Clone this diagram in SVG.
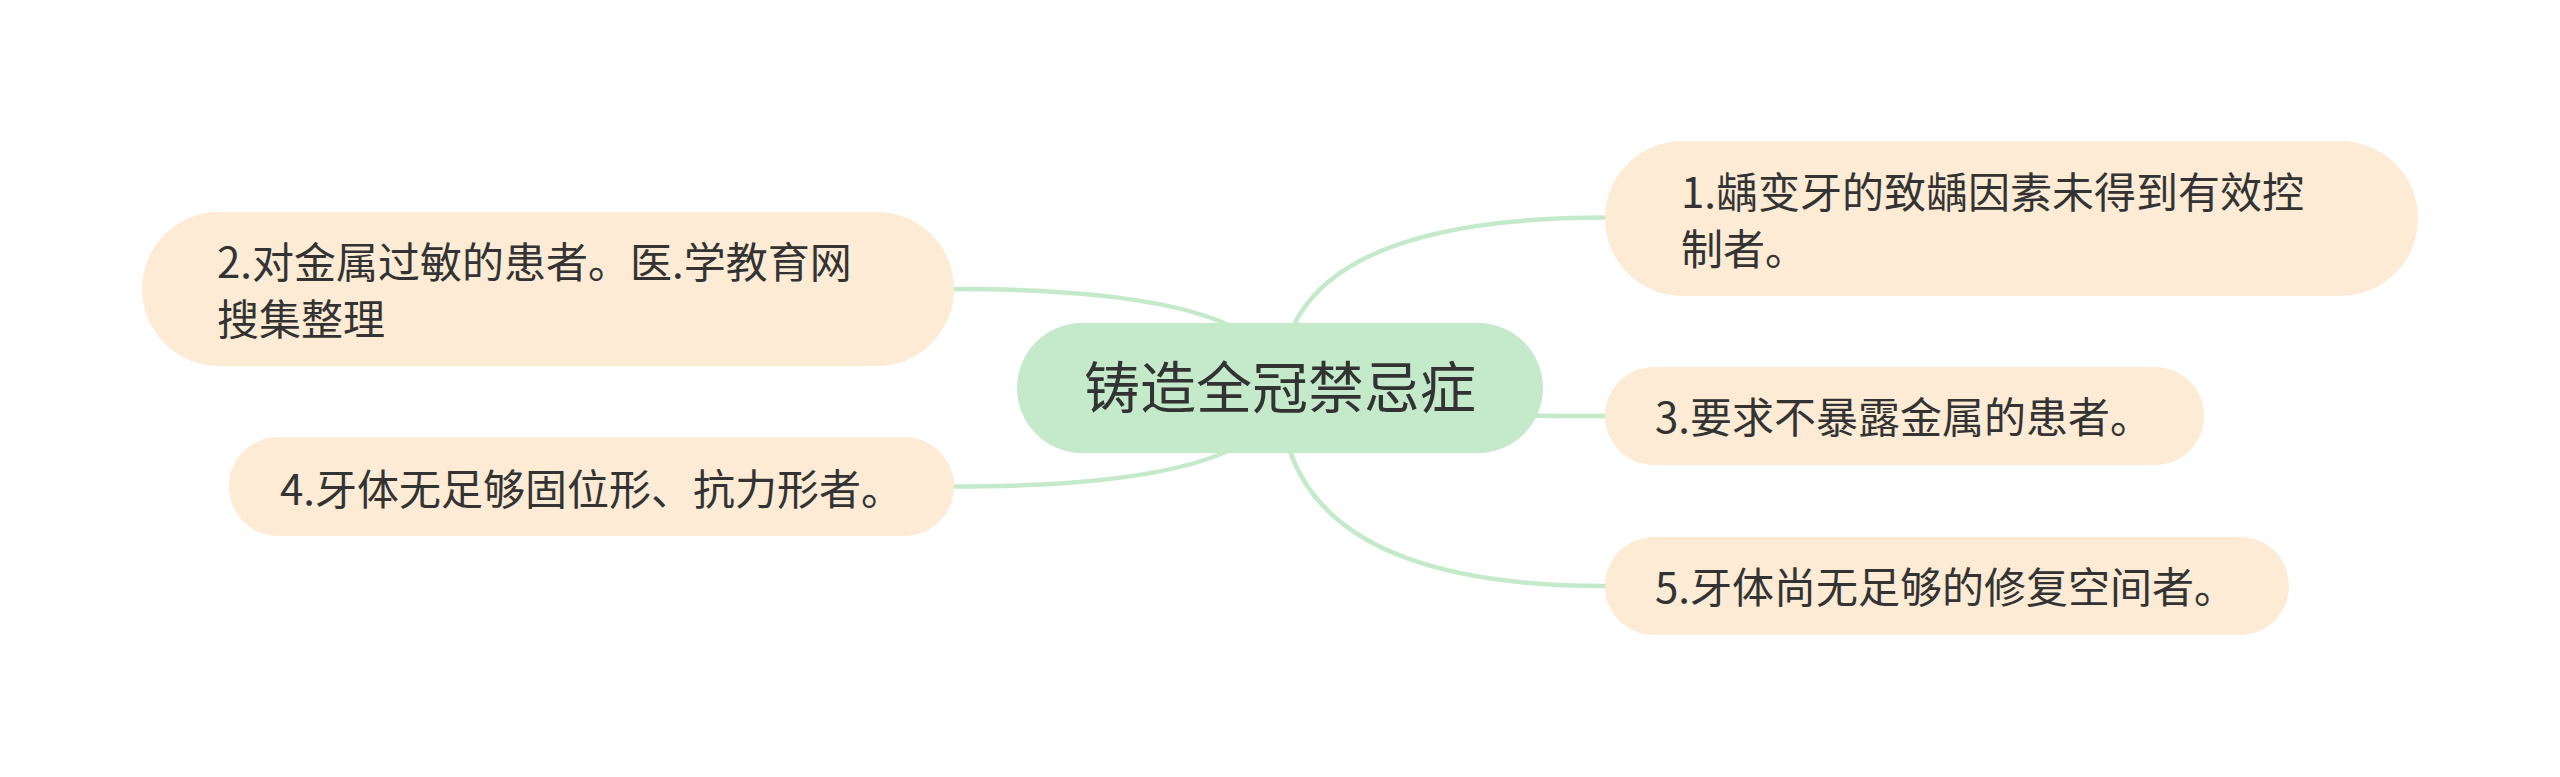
<svg xmlns="http://www.w3.org/2000/svg" width="2560" height="777" viewBox="0 0 2560 777">
<style>
.bg{fill:#ffffff}
.link{fill:none;stroke:#C4EACB;stroke-width:4.5;stroke-linecap:round}
.sub{fill:#FDEBD5}
.root{fill:#C4EACB}
.t{font-family:"Noto Sans CJK SC","Noto Sans",sans-serif;fill:#333333}
.ts{font-size:42px}
.tr{font-size:56px}
</style>
<rect class="bg" x="0" y="0" width="2560" height="777"/>
<g id="connectors">
<path class="link" d="M1280 388 Q1280 217.5 1605 217.5"/>
<path class="link" d="M1280 388 Q1280 289 954 289"/>
<path class="link" d="M1280 388 Q1280 416 1605 416"/>
<path class="link" d="M1280 388 Q1280 486.5 954 486.5"/>
<path class="link" d="M1280 388 Q1280 586 1605 586"/>
</g>
<g id="root">
<rect class="root" x="1017" y="323" width="526" height="130" rx="65"/>
<text class="t tr" x="1280" y="408" text-anchor="middle">铸造全冠禁忌症</text>
</g>
<g id="node1">
<rect class="sub" x="1605" y="141" width="813" height="155" rx="77.5"/>
<text class="t ts" x="1681" y="207.5">1.龋变牙的致龋因素未得到有效控</text>
<text class="t ts" x="1681" y="264.5">制者。</text>
</g>
<g id="node2">
<rect class="sub" x="142" y="212" width="812" height="154" rx="77"/>
<text class="t ts" x="217" y="277.5">2.对金属过敏的患者。医.学教育网</text>
<text class="t ts" x="217" y="334.5">搜集整理</text>
</g>
<g id="node3">
<rect class="sub" x="1605" y="367" width="599" height="98" rx="49"/>
<text class="t ts" x="1655" y="433">3.要求不暴露金属的患者。</text>
</g>
<g id="node4">
<rect class="sub" x="229" y="437" width="725" height="99" rx="49.5"/>
<text class="t ts" x="280" y="505">4.牙体无足够固位形、抗力形者。</text>
</g>
<g id="node5">
<rect class="sub" x="1605" y="537" width="684" height="98" rx="49"/>
<text class="t ts" x="1655" y="603">5.牙体尚无足够的修复空间者。</text>
</g>
</svg>
